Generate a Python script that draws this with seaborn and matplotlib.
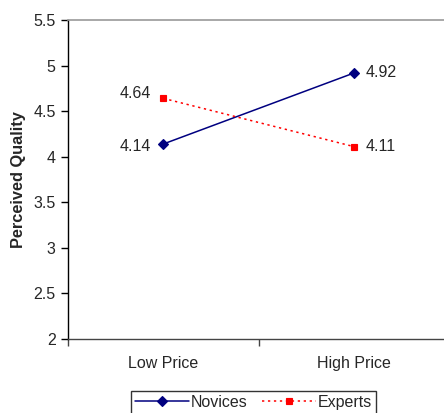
import matplotlib
matplotlib.use('Agg')
import matplotlib.pyplot as plt
import pandas as pd
import seaborn as sns
from matplotlib.ticker import FixedLocator

# values
prices = ['Low Price', 'High Price']
novices = [4.14, 4.92]
experts = [4.64, 4.11]
groups = ['Novices', 'Experts']

df = pd.DataFrame({
    'Price': prices * 2,
    'Quality': novices + experts,
    'Group': [groups[0]] * 2 + [groups[1]] * 2,
})

sns.set_style('white')
plt.rcParams['font.family'] = ['Liberation Sans', 'DejaVu Sans']

fig = plt.figure(figsize=(4.44, 4.13), dpi=100)
ax = fig.add_axes([68 / 444, 74 / 413, 1 - 68 / 444, 319 / 413])

sns.pointplot(data=df, x='Price', y='Quality', hue='Group', order=prices,
              hue_order=groups, palette=['#000080', '#ff0000'],
              markers=['D', 's'], linestyles=['-', (0, (1.5, 2.4))],
              markersize=5, linewidth=1.1, ax=ax)

fs = 11.5
# data labels
ax.annotate(f'{novices[0]:.2f}', (0, novices[0]), xytext=(-9, -2), textcoords='offset points',
            ha='right', va='center', fontsize=fs)
ax.annotate(f'{novices[1]:.2f}', (1, novices[1]), xytext=(8, 0), textcoords='offset points',
            ha='left', va='center', fontsize=fs)
ax.annotate(f'{experts[0]:.2f}', (0, experts[0]), xytext=(-9, 3.5), textcoords='offset points',
            ha='right', va='center', fontsize=fs)
ax.annotate(f'{experts[1]:.2f}', (1, experts[1]), xytext=(8, 0), textcoords='offset points',
            ha='left', va='center', fontsize=fs)

ax.set_ylim(2, 5.5)
ax.set_yticks([2, 2.5, 3, 3.5, 4, 4.5, 5, 5.5])
ax.set_yticklabels(['2', '2.5', '3', '3.5', '4', '4.5', '5', '5.5'])
ax.set_xlim(-0.5, 1.47)
ax.xaxis.set_minor_locator(FixedLocator([-0.5, 0.5, 1.5]))
ax.tick_params(axis='x', which='major', length=0, pad=12, labelsize=fs)
ax.tick_params(axis='x', which='minor', length=5, width=1, color='#444444', direction='out', bottom=True)
ax.tick_params(axis='y', length=5, width=1, color='black', direction='out', left=True, labelsize=fs, pad=4)

ax.set_xlabel('')
ax.set_ylabel('Perceived Quality', fontsize=11.8, fontweight='bold', labelpad=5)

ax.spines['right'].set_visible(False)
ax.spines['top'].set_color('#999999')
ax.spines['top'].set_linewidth(1.2)
ax.spines['left'].set_color('black')
ax.spines['bottom'].set_color('#444444')
ax.spines['left'].set_linewidth(1)
ax.spines['bottom'].set_linewidth(1)

handles, labels = ax.get_legend_handles_labels()
ax.legend(handles, labels, loc='upper center', bbox_to_anchor=(0.493, -0.163), ncol=2,
          frameon=True, fancybox=False, edgecolor='black', fontsize=fs,
          handlelength=3.4, handletextpad=0.1, columnspacing=0.9,
          borderpad=0.25, borderaxespad=0)

fig.savefig('out.png', dpi=100)
